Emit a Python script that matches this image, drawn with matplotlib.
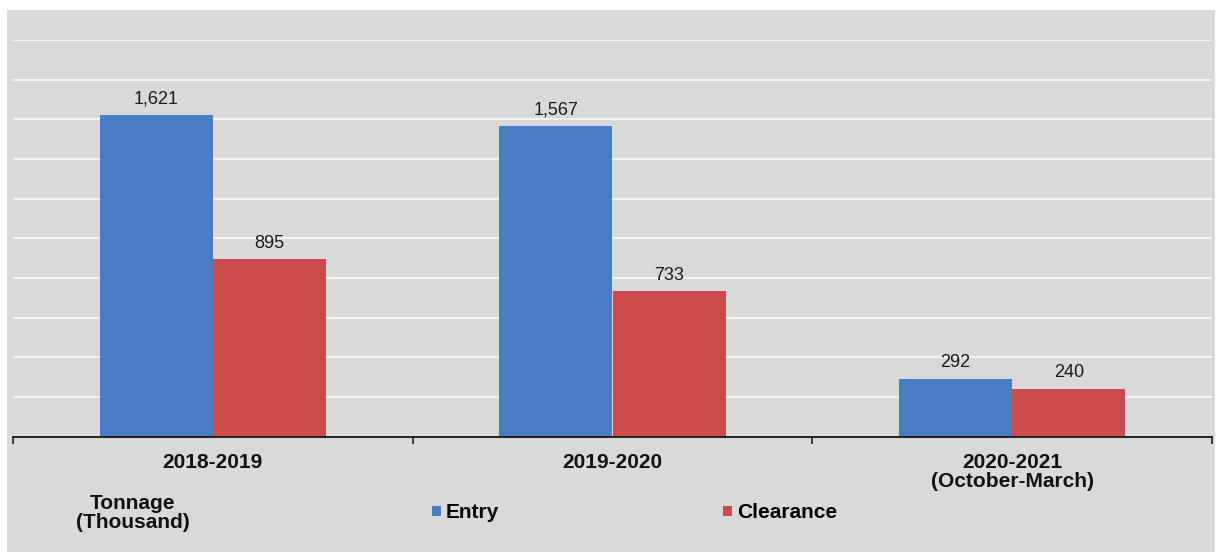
import matplotlib
matplotlib.use("Agg")
import matplotlib.pyplot as plt
from matplotlib.patches import Rectangle
import numpy as np

plt.rcParams['font.family'] = ['Liberation Sans', 'DejaVu Sans']

categories = ["2018-2019", "2019-2020", "2020-2021\n(October-March)"]
entry = [1621, 1567, 292]
clearance = [895, 733, 240]
series_names = ["Entry", "Clearance"]
unit_label = "Tonnage\n(Thousand)"

W, H = 1219, 552
fig = plt.figure(figsize=(W / 100, H / 100), dpi=100, facecolor="white")
fig.patches.append(Rectangle((7 / W, 0), (1215 - 7) / W, (H - 10) / H,
                             transform=fig.transFigure, facecolor="#d9d9d9",
                             edgecolor="none", zorder=-10))

ax = fig.add_axes([13 / W, 1 - 436.7 / H, (1212 - 13) / W, (436.7 - 40) / H])
ax.set_facecolor("none")
ax.set_zorder(1)

x = np.arange(len(categories))
bw = 0.283
blue = "#4a7ec4"
red = "#cb4b4b"
b1 = ax.bar(x - bw / 2, entry, width=bw, color=blue, label=series_names[0], zorder=3)
b2 = ax.bar(x + bw / 2, clearance, width=bw, color=red, label=series_names[1], zorder=3)

for bars, vals in ((b1, entry), (b2, clearance)):
    for rect, v in zip(bars, vals):
        ax.annotate(f"{v:,}", (rect.get_x() + rect.get_width() / 2, rect.get_height()),
                    xytext=(0, 5.5), textcoords="offset points",
                    ha="center", va="bottom", fontsize=13, color="#1a1a1a")

ax.set_xlim(-0.5, len(categories) - 0.5)
ax.set_ylim(0, 2000)
ax.set_yticks(np.arange(200, 2001, 200))
ax.yaxis.grid(True, color="#f4f4f4", linewidth=1.5, zorder=1)
ax.set_axisbelow(True)
ax.tick_params(axis="y", left=False, labelleft=False)

ax.set_xticks(x)
ax.set_xticklabels(categories, fontsize=15, fontweight="bold", linespacing=1.0)
ax.set_xticks(np.arange(-0.5, len(categories), 1.0), minor=True)
ax.tick_params(axis="x", which="major", length=0, pad=12, colors="#111111")
ax.tick_params(axis="x", which="minor", length=5, width=1.2, color="#222222", direction="out")

for s in ("top", "right", "left"):
    ax.spines[s].set_visible(False)
ax.spines["bottom"].set_color("#222222")
ax.spines["bottom"].set_linewidth(1.4)
ax.spines["bottom"].set_zorder(4)

fig.text(133 / W, 1 - 513 / H, unit_label, ha="center", va="center",
         fontsize=15, fontweight="bold", color="#111111", linespacing=1.05)

for handle, name, xl in ((b1, series_names[0], 432), (b2, series_names[1], 723)):
    fig.legend([handle], [name], loc="center left",
               bbox_to_anchor=(xl / W, 1 - 513 / H), frameon=False,
               borderpad=0, borderaxespad=0, handlelength=0.42, handleheight=0.42,
               handletextpad=0.25, prop={"size": 15, "weight": "bold"})

fig.savefig("out.png", dpi=100, facecolor="white")
